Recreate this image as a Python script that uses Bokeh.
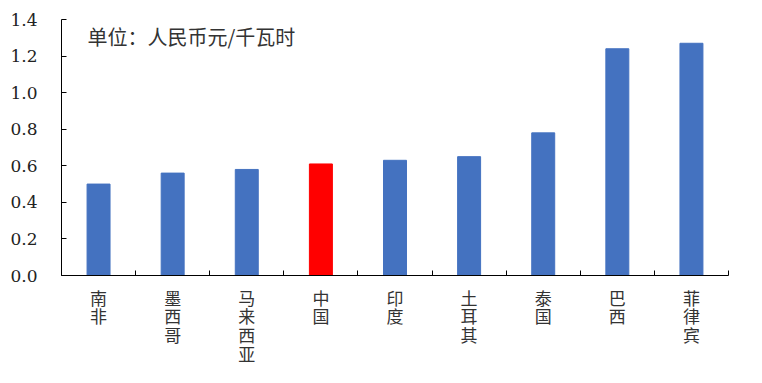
from bokeh.plotting import figure
from bokeh.models import Range1d, FixedTicker, Label, ColumnDataSource
from bokeh.embed import file_html
from bokeh.resources import INLINE

countries = ["南非", "墨西哥", "马来西亚", "中国", "印度", "土耳其", "泰国", "巴西", "菲律宾"]
prices = [0.50, 0.56, 0.58, 0.61, 0.63, 0.65, 0.78, 1.24, 1.27]
highlight = "中国"
y_ticks = [0.0, 0.2, 0.4, 0.6, 0.8, 1.0, 1.2, 1.4]
unit_text = "单位：人民币元/千瓦时"

BLUE = "#4472c0"
RED = "#ff0000"

xs = [i + 0.5 for i in range(len(countries))]
colors = [RED if c == highlight else BLUE for c in countries]
src = ColumnDataSource(dict(x=xs, top=prices, color=colors))

p = figure(frame_width=667, frame_height=256, output_backend="svg", toolbar_location=None,
           x_range=Range1d(0, len(countries)), y_range=Range1d(0, 1.4),
           min_border_left=61, min_border_right=20, min_border_top=19, min_border_bottom=90)
p.outline_line_color = None
p.xgrid.visible = False
p.ygrid.visible = False
p.background_fill_color = "white"
p.border_fill_color = "white"

p.vbar(x="x", top="top", width=0.31, bottom=0, fill_color="color", line_color="color",
       source=src)

# y axis
p.yaxis.ticker = FixedTicker(ticks=y_ticks, minor_ticks=[])
p.yaxis.major_label_overrides = {t: f"{t:.1f}" for t in y_ticks}
p.yaxis.major_tick_in = 5
p.yaxis.major_tick_out = 0
p.yaxis.minor_tick_line_color = None
p.yaxis.major_label_standoff = 24
p.yaxis.major_label_text_font = "DejaVu Serif"
p.yaxis.major_label_text_font_size = "17px"
p.yaxis.major_label_text_color = "#222222"
p.yaxis.axis_line_color = "black"

# x axis: labels at category centres, ticks between categories
p.xaxis.ticker = FixedTicker(ticks=xs, minor_ticks=list(range(len(countries) + 1)))
p.xaxis.major_label_overrides = {x: "\n".join(c) for x, c in zip(xs, countries)}
p.xaxis.major_tick_line_color = None
p.xaxis.major_tick_in = 0
p.xaxis.major_tick_out = 0
p.xaxis.minor_tick_in = 5
p.xaxis.minor_tick_out = 0
p.xaxis.minor_tick_line_color = "black"
p.xaxis.major_label_standoff = 9
p.xaxis.major_label_text_font = "Noto Sans CJK SC"
p.xaxis.major_label_text_font_size = "17px"
p.xaxis.major_label_text_line_height = 0.75
p.xaxis.major_label_text_color = "#333333"
p.xaxis.axis_line_color = "black"

p.add_layout(Label(x=0.35, y=1.384, text=unit_text, text_font="Noto Sans CJK SC",
                   text_font_size="20px", text_color="#333333", text_baseline="top"))

open("out.html", "w").write(file_html(p, INLINE))
